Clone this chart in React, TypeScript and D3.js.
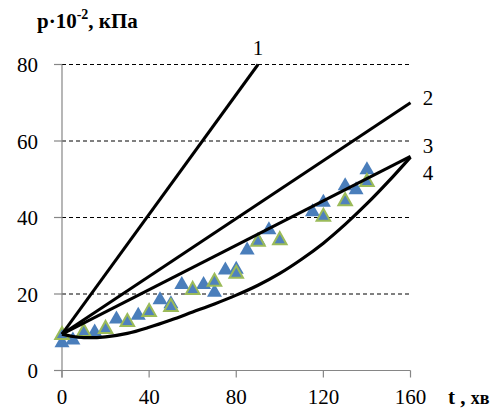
import React from "react";
import * as d3 from "d3";

const xTicks = [0, 40, 80, 120, 160];
const yTicks = [0, 20, 40, 60, 80];

// measured series (blue triangles)
const blueT = [0, 5, 10, 15, 25, 35, 45, 50, 55, 65, 70, 75, 80, 85, 90, 95, 115, 120, 130, 135, 140];
const blueP = [7.8, 8.5, 10, 10.6, 14, 15, 19, 18, 23, 23, 21, 26.8, 27, 32, 34.5, 37.3, 42, 44.5, 48.8, 47.8, 53];

// measured series (green-bordered triangles)
const greenT = [0, 10, 20, 30, 40, 50, 60, 70, 80, 90, 100, 120, 130, 140];
const greenP = [9.8, 10.6, 11.4, 13.2, 15.8, 17.1, 21.6, 23.7, 25.8, 34.2, 34.6, 40.7, 44.8, 49.8];

// model curves
const line1T = [0, 90];
const line1P = [9.5, 80];
const line2T = [0, 160];
const line2P = [9.5, 70];
const line3T = [0, 160];
const line3P = [9.5, 56];
const line4T = [0, 5, 10, 20, 30, 40, 50, 60, 70, 80, 90, 100, 110, 120, 130, 140, 150, 160];
const line4P = [9.5, 8.9, 8.6, 8.8, 9.7, 11.3, 13.2, 15.3, 17.4, 19.7, 22.3, 25.4, 29.1, 33.3, 38.2, 43.6, 49.5, 55.8];

const curveLabels = ["1", "2", "3", "4"];

const SERIF = "'Liberation Serif', 'Tinos', 'Times New Roman', 'DejaVu Serif', 'Noto Serif', serif";

export default function App() {
  const x = d3.scaleLinear().domain([0, 160]).range([62, 410.5]);
  const y = d3.scaleLinear().domain([0, 80]).range([370.5, 64.5]);

  const lineGen = d3
    .line<[number, number]>()
    .x((d) => x(d[0]))
    .y((d) => y(d[1]));
  const curveGen = d3
    .line<[number, number]>()
    .x((d) => x(d[0]))
    .y((d) => y(d[1]))
    .curve(d3.curveCatmullRom.alpha(0.5));

  const zip = (a: number[], b: number[]) => a.map((v, i) => [v, b[i]] as [number, number]);

  const tri = (cx: number, cy: number, w: number, h: number) =>
    `M${cx},${cy - h / 2}L${cx + w / 2},${cy + h / 2}L${cx - w / 2},${cy + h / 2}Z`;

  const [x0, x1] = x.range();
  const ts = { fontFamily: SERIF } as React.CSSProperties;

  const labelPos: [number, number][] = [
    [x(90), 55],
    [428, 105],
    [428, 153],
    [428, 180],
  ];

  return (
    <svg
      width={502}
      height={416}
      style={{ position: "absolute", left: 0, top: 0, background: "#fff" }}
    >
      <rect width={502} height={416} fill="#fff" />
      {/* gridlines */}
      {yTicks
        .filter((v) => v > 0)
        .map((v) => (
          <line
            key={"g" + v}
            x1={x0}
            x2={x1 + 1.5}
            y1={y(v)}
            y2={y(v)}
            stroke="#000"
            strokeWidth={1}
            strokeDasharray="4,3"
          />
        ))}
      {/* axes */}
      <line x1={x0} x2={x0} y1={y(80)} y2={y(0) + 7} stroke="#868686" strokeWidth={1.2} />
      <line x1={x0 - 8} x2={x1} y1={y(0)} y2={y(0)} stroke="#868686" strokeWidth={1.2} />
      {yTicks.map((v) => (
        <line key={"yt" + v} x1={x0 - 8} x2={x0} y1={y(v)} y2={y(v)} stroke="#868686" strokeWidth={1.2} />
      ))}
      {xTicks.map((v) => (
        <line key={"xt" + v} x1={x(v)} x2={x(v)} y1={y(0)} y2={y(0) + 7} stroke="#868686" strokeWidth={1.2} />
      ))}
      {yTicks.map((v) => (
        <text key={"yl" + v} x={38} y={y(v) + 7.5} fontSize={21} textAnchor="end" fill="#000" style={ts}>
          {v}
        </text>
      ))}
      {xTicks.map((v) => (
        <text key={"xl" + v} x={x(v)} y={404} fontSize={21} textAnchor="middle" fill="#000" style={ts}>
          {v}
        </text>
      ))}
      {/* markers */}
      {zip(blueT, blueP).map((d, i) => (
        <path key={"b" + i} d={tri(x(d[0]), y(d[1]), 15, 13)} fill="#4a7ebb" />
      ))}
      {zip(greenT, greenP).map((d, i) => (
        <path
          key={"gr" + i}
          d={tri(x(d[0]), y(d[1]), 13.5, 12)}
          fill="#4f81bd"
          stroke="#9bbb59"
          strokeWidth={2}
          strokeLinejoin="miter"
        />
      ))}
      {/* model lines */}
      <path d={lineGen(zip(line1T, line1P)) || ""} fill="none" stroke="#000" strokeWidth={3} />
      <path d={lineGen(zip(line2T, line2P)) || ""} fill="none" stroke="#000" strokeWidth={3} />
      <path d={lineGen(zip(line3T, line3P)) || ""} fill="none" stroke="#000" strokeWidth={3} />
      <path d={curveGen(zip(line4T, line4P)) || ""} fill="none" stroke="#000" strokeWidth={3.2} />
      {curveLabels.map((s, i) => (
        <text key={"cl" + i} x={labelPos[i][0]} y={labelPos[i][1]} fontSize={21} textAnchor="middle" fill="#000" style={ts}>
          {s}
        </text>
      ))}
      {/* axis titles */}
      <text x={37} y={28} fontSize={21} fontWeight="bold" fill="#000" style={ts}>
        p·10
        <tspan fontSize={14} dy={-9}>
          -2
        </tspan>
        <tspan dy={9}>, кПа</tspan>
      </text>
      <text x={448} y={404} fontSize={21} fontWeight="bold" fill="#000" style={ts}>
        t , <tspan fontSize={18}>хв</tspan>
      </text>
    </svg>
  );
}
